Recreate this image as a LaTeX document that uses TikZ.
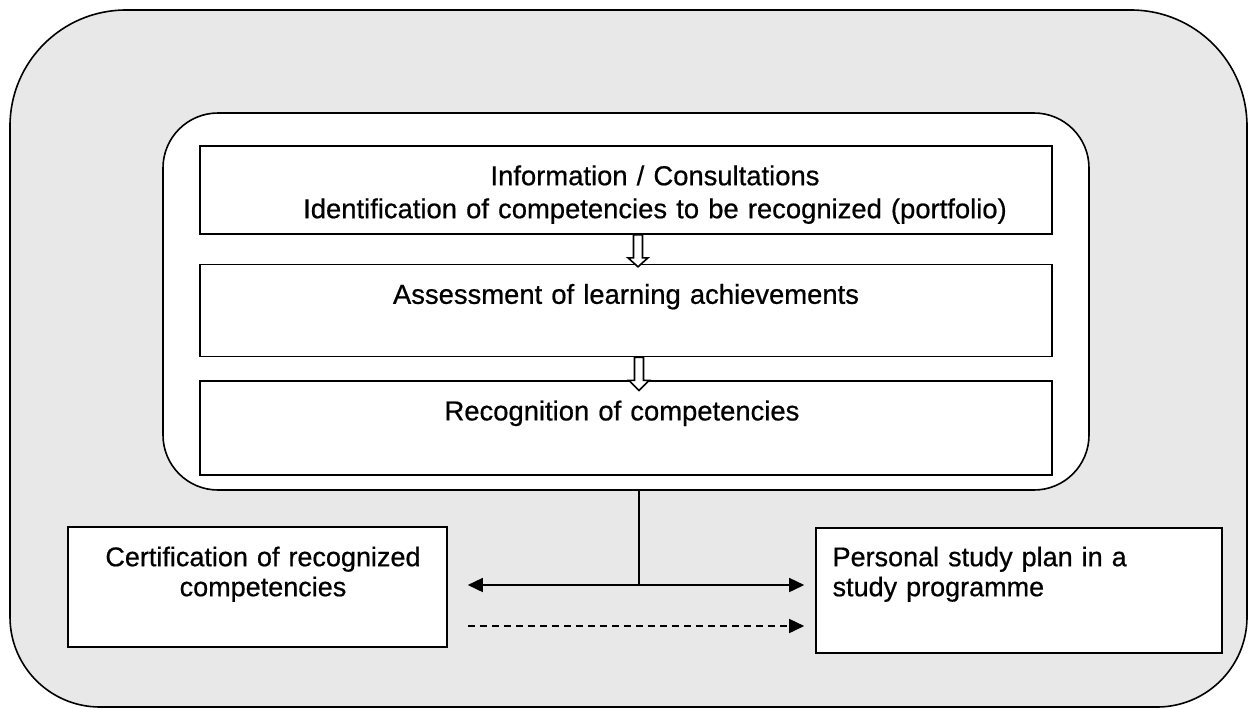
\documentclass[tikz,border=0pt]{standalone}
\usepackage{fontspec}
\setmainfont{Liberation Sans}[FakeBold=0.6]
\usetikzlibrary{positioning,calc,arrows.meta}
\definecolor{paper}{RGB}{232,232,232}
\tikzset{
    stage/.style={
           rectangle,
           draw=black, line width=0.8pt,
           fill=white,
           inner sep=0pt,
           },
}
\tikzset{
    caption/.style={
           anchor=base,
           inner sep=0pt,
           font=\fontsize{13.7}{16.5}\selectfont,
           },
}
\tikzset{
    hollow/.style={draw=black, line width=0.8pt, fill=white},
    link/.style={line width=0.8pt, -{Triangle[length=7.5pt,width=7pt]}},
}

\begin{document}
\begin{tikzpicture}[x=0.5pt,y=-0.5pt]
\useasboundingbox (0,0) rectangle (1248,708);
% grey background
\path[draw=black, line width=0.8pt, fill=paper] (10,400) [rounded corners=58pt] -- (10,10) -- (1247,10) -- (1247,400) [rounded corners=45pt] -- (1247,707) -- (10,707) -- cycle;
\node[stage, rounded corners=27.5pt, minimum width=463pt, minimum height=188.5pt](frame) at (626,301.5){};
% the three steps
\node[stage, minimum width=426pt, minimum height=44pt](info) at (626,190){};
\node[stage, minimum width=426pt, minimum height=46pt, below=14.5pt of info](assess){};
\node[stage, minimum width=426pt, minimum height=47pt, below=11.5pt of assess](recog){};
\node[stage, minimum width=189.5pt, minimum height=60pt](cert) at (257.5,587){};
\node[stage, minimum width=203pt, minimum height=62.5pt](plan) at (1019,590.5){};
\node[caption, align=center, text width=420pt](infotext) at ([xshift=14.5pt,yshift=-20pt]info.north){Information / Consultations\\Identification of competencies to be recognized (portfolio)};
\node[caption, align=center, text width=420pt](assesstext) at ([yshift=-20pt]assess.north){Assessment of learning achievements};
\node[caption, align=center, text width=420pt](recogtext) at ([xshift=-2pt,yshift=-20pt]recog.north){Recognition of competencies};
\node[caption, align=center, text width=185pt, font=\fontsize{13.5}{15}\selectfont](certtext) at ([xshift=2.75pt,yshift=-20pt]cert.north){Certification of recognized\\competencies};
\node[caption, anchor=base west, align=left, text width=190pt, font=\fontsize{13.5}{15}\selectfont](plantext) at ([xshift=8.5pt,yshift=-19.5pt]plan.north west){Personal study plan in a\\study programme};
% block arrows
\draw[hollow] ($(info.south)+(7.5,0)$) -- ++(0,23) -- ++(-5.5,0) -- ++(10,9) -- ++(10,-9) -- ++(-5.5,0) -- ++(0,-23) -- cycle;
\draw[hollow] ($(assess.south)+(8.5,0)$) -- ++(0,23) -- ++(-5.5,0) -- ++(10,10) -- ++(10,-10) -- ++(-5.5,0) -- ++(0,-23) -- cycle;
% connectors
\coordinate (split) at (639,585);
\coordinate (dashy) at (0,626);
\coordinate[right=10pt of cert.east](lefttip);
\coordinate[left=5.5pt of plan.west](righttip);
\draw[line width=0.8pt] (frame.south -| split) -- (split);
\draw[link] (split) -- (lefttip |- split);
\draw[link] (split) -- (righttip |- split);
\draw[link, dash pattern=on 3.5pt off 2.5pt] (lefttip |- dashy) -- (righttip |- dashy);
\end{tikzpicture}
\end{document}
